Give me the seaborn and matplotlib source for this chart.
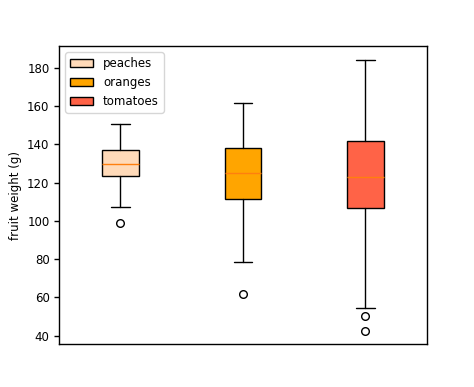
import matplotlib
matplotlib.use("Agg")
import matplotlib.pyplot as plt
import seaborn as sns

# Data
fruits = ["peaches", "oranges", "tomatoes"]
colors = ["peachpuff", "orange", "tomato"]
whislo = [107.3, 78.4, 54.2]
q1 = [123.4, 111.6, 106.6]
med = [129.9, 124.9, 122.9]
q3 = [137.0, 137.9, 141.7]
whishi = [150.6, 161.6, 184.0]
fliers = [[98.7], [62.0], [50.5, 42.5]]

sns.set_theme(style="ticks", rc={"axes.grid": False})
fs = 8.5
lw = 1.0
plt.rcParams.update({
    "font.family": ["DejaVu Sans"],
    "font.size": fs,
    "text.color": "black",
    "axes.labelcolor": "black",
    "xtick.color": "black",
    "ytick.color": "black",
    "axes.edgecolor": "black",
})

stats = []
for i, f in enumerate(fruits):
    stats.append(dict(label=f, whislo=whislo[i], q1=q1[i], med=med[i],
                      q3=q3[i], whishi=whishi[i], fliers=fliers[i]))

fig, ax = plt.subplots(figsize=(4.74, 3.87), dpi=100)
fig.subplots_adjust(left=0.125, right=0.9, top=0.88, bottom=0.11)
bp = ax.bxp(stats, positions=[1, 2, 3], widths=0.3, patch_artist=True,
            boxprops=dict(linewidth=lw, edgecolor="black"),
            whiskerprops=dict(linewidth=lw, color="black"),
            capprops=dict(linewidth=lw, color="black"),
            medianprops=dict(linewidth=lw, color="#ff7f0e"),
            flierprops=dict(marker="o", markersize=5.5, markerfacecolor="none",
                            markeredgecolor="black", markeredgewidth=lw))
for patch, c in zip(bp["boxes"], colors):
    patch.set_facecolor(c)

ax.set_xticks([])
ax.set_ylabel("fruit weight (g)", fontsize=fs)
ax.tick_params(axis="y", labelsize=fs, width=lw, length=3.5)
for s in ax.spines.values():
    s.set_linewidth(lw)
    s.set_color("black")
    s.set_visible(True)
ax.set_yticks([40, 60, 80, 100, 120, 140, 160, 180])
ax.legend(bp["boxes"], fruits, loc="upper left", fontsize=fs)
fig.savefig("out.png", dpi=100)
